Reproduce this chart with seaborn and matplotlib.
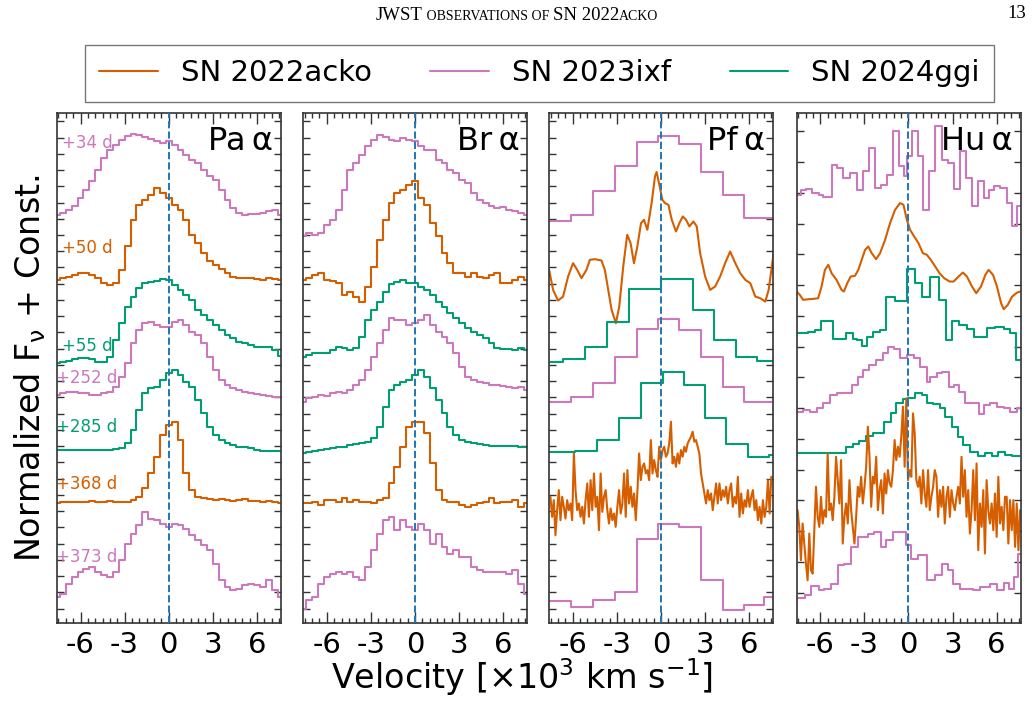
import numpy as np
import matplotlib
matplotlib.use('Agg')
import matplotlib.pyplot as plt
from matplotlib.lines import Line2D
from matplotlib.ticker import MultipleLocator, FixedLocator
from matplotlib.offsetbox import TextArea, HPacker, AnchoredOffsetbox
import seaborn as sns

# ---------------------------------------------------------------------------
# data: flux values (arbitrary units, before stacking)
# ---------------------------------------------------------------------------
sn_names = ['SN 2022acko', 'SN 2023ixf', 'SN 2024ggi']
epochs = ['+34 d', '+50 d', '+55 d', '+252 d', '+285 d', '+368 d', '+373 d']
epoch_sn = ['SN 2023ixf', 'SN 2022acko', 'SN 2024ggi', 'SN 2023ixf',
            'SN 2024ggi', 'SN 2022acko', 'SN 2023ixf']
line_names = ['Pa\u2009α', 'Br\u2009α', 'Pf\u2009α', 'Hu\u2009α']

# velocity grid (10^3 km/s) of the Pa alpha / Br alpha spectra
v_grid = np.linspace(-7.6, 7.6, 39)

# --- Pa alpha ---
pa_34 = [0, .05, .15, .25, .50, .75, 1.0, 1.35, 1.70, 1.95, 2.10, 2.25, 2.35, 2.43, 2.40, 2.33, 2.27, 2.20, 2.15, 2.20,
         2.10, 1.95, 1.80, 1.65, 1.55, 1.35, 1.15, 1.05, .75, .45, .20, .05, 0, .03, .03, .05, .10, .15, 0]
pa_50 = [.15, .20, .25, .30, .35, .35, .30, .20, .05, 0, .05, .45, 1.15, 1.95, 2.40, 2.55, 2.70, 2.90, 2.75, 2.60,
         2.40, 2.25, 1.95, 1.50, 1.25, .95, .70, .60, .47, .35, .25, .20, .20, .20, .17, .15, .20, .18, .15]
pa_55 = [0, .05, .08, .12, .15, .15, .12, .05, .05, .20, .70, 1.20, 1.70, 2.00, 2.25, 2.40, 2.45, 2.48, 2.52, 2.50,
         2.35, 2.20, 2.05, 1.90, 1.60, 1.45, 1.30, 1.15, 1.00, .85, .75, .65, .60, .55, .50, .48, .48, .40, .22]
pa_252 = [.05, .10, .15, .15, .12, .10, .05, .05, .10, .15, .30, .60, 1.00, 1.60, 2.00, 2.20, 2.25, 2.15, 2.10, 2.10,
          2.25, 2.30, 2.15, 1.95, 1.85, 1.60, 1.20, .80, .50, .35, .25, .20, .15, .12, .08, .05, .02, 0, 0]
pa_285 = [.03, .03, .03, .03, .03, .03, .03, .03, .03, .04, .05, .08, .23, .63, 1.23, 1.73, 1.88, 1.93, 2.13, 2.33,
          2.43, 2.28, 2.08, 1.93, 1.53, 1.13, .73, .48, .33, .23, .18, .13, .11, .08, .03, .01, .01, 0, 0]
pa_368 = [.02, .04, .05, .04, .05, .04, .06, .05, .04, .06, .05, .04, .05, .10, .20, .45, .90, 1.40, 2.05, 2.35,
          2.45, 1.90, .90, .40, .20, .15, .12, .10, .12, .10, .08, .10, .12, .08, .07, .05, .06, .04, .02]
pa_373 = [0, .10, .40, .60, .75, .85, .90, .75, .65, .60, .75, 1.10, 1.60, 1.90, 2.15, 2.55, 2.35, 2.30, 2.20, 2.10,
          2.20, 2.15, 2.05, 1.85, 1.70, 1.55, 1.40, 1.00, .50, .30, .20, .25, .35, .40, .35, .30, .50, .20, 0]

# --- Br alpha ---
br_34 = [0, .10, .05, .10, .35, .50, .80, 1.40, 2.00, 2.20, 2.45, 2.70, 2.90, 3.05, 2.98, 2.88, 2.85, 2.95, 2.90, 2.85,
         2.70, 2.60, 2.60, 2.30, 2.20, 2.00, 1.90, 1.70, 1.60, 1.30, 1.10, 1.00, .90, .85, .88, .80, .75, .70, .65]
br_50 = [.65, .70, .80, .85, .65, .63, .55, .20, .30, .15, 0, .45, 1.05, 1.85, 2.45, 2.95, 3.25, 3.35, 3.50, 3.60,
         3.10, 2.90, 2.35, 1.95, 1.45, 1.15, .85, .85, .75, .85, .75, .70, .80, .85, .55, .55, .65, .75, .65]
br_55 = [0, .05, .10, .10, .12, .20, .28, .25, .20, .25, .60, 1.10, 1.40, 1.65, 1.95, 2.18, 2.25, 2.30, 2.22, 2.20,
         2.10, 2.00, 1.85, 1.65, 1.50, 1.30, 1.15, 1.00, .85, .75, .65, .55, .40, .25, .22, .22, .20, .25, .20]
br_252 = [0, .10, .15, .20, .17, .25, .30, .25, .35, .50, .65, .95, 1.35, 1.75, 2.15, 2.50, 2.45, 2.45, 2.30, 2.35,
          2.45, 2.60, 2.30, 2.10, 1.95, 1.75, 1.45, 1.05, .75, .65, .60, .55, .50, .50, .47, .45, .40, .43, .35]
br_285 = [0, .05, .08, .10, .12, .15, .18, .20, .25, .28, .30, .35, .45, .80, 1.40, 1.90, 2.05, 2.15, 2.20, 2.35,
          2.50, 2.30, 1.95, 1.60, 1.20, .80, .55, .40, .33, .30, .27, .25, .23, .22, .22, .22, .21, .20, .20]
br_368 = [.10, .12, .15, .05, .20, .20, .15, .25, .15, .20, .15, .15, .10, .20, .25, .70, 1.20, 1.80, 2.40, 2.55,
          2.55, 2.20, 1.30, .50, .20, .15, .15, .05, 0, .05, .10, .15, .25, .10, .15, .15, .20, 0, .10]
br_373 = [0, .25, .35, .75, .95, 1.05, 1.10, 1.05, 1.10, .95, .85, 1.25, 1.75, 2.25, 2.65, 2.75, 2.35, 2.65, 2.45, 2.35,
          2.55, 2.35, 1.95, 2.25, 1.85, 1.65, 1.75, 1.55, 1.55, 1.25, 1.15, 1.10, 1.10, 1.10, 1.10, 1.05, 1.15, .75, .45]

# --- Pf alpha (coarse spectra given as bin edges + bin values) ---
pf_edges_a = [-7.61, -6.09, -4.61, -3.14, -1.66, -0.18, 1.25, 2.73, 4.20, 5.61, 7.66]
pf_34 = [0, .20, .92, 1.67, 2.39, 2.55, 2.32, 1.49, .78, .10]
pf_252 = [0, .17, .59, 1.37, 2.20, 2.49, 2.17, 1.37, .45, .02]
pf_50_v = [-7.61, -7.34, -7.00, -6.66, -6.32, -5.98, -5.70, -5.41, -5.07, -4.84, -4.50, -4.05, -3.82, -3.59, -3.36,
           -3.07, -2.84, -2.57, -2.30, -2.07, -1.84, -1.61, -1.36, -1.16, -0.93, -0.64, -0.41, -0.30, -0.14, 0.09,
           0.27, 0.50, 0.73, 1.02, 1.25, 1.48, 1.70, 1.93, 2.20, 2.43, 2.66, 3.00, 3.34, 3.68, 4.02, 4.36, 4.70,
           5.05, 5.39, 5.73, 6.07, 6.41, 6.75, 7.09, 7.32, 7.66]
pf_50 = [1.60, 1.00, .68, .80, 1.40, 1.80, 1.60, 1.35, 1.60, 1.90, 1.92, 1.88, 1.60, 1.00, .40,
         0, .50, 1.70, 2.65, 2.40, 1.80, 2.30, 3.00, 3.10, 2.80, 3.60, 4.40, 4.53, 4.20, 3.70,
         3.60, 3.55, 3.10, 2.75, 3.00, 3.20, 3.10, 2.90, 3.05, 2.90, 2.10, 1.40, 1.00, 1.10, 1.40, 1.80, 2.15,
         1.80, 1.50, 1.30, 1.20, .80, .75, .65, 1.00, 2.10]
pf_55_edges = [-7.61, -6.66, -5.14, -3.64, -2.16, 0, 2.20, 3.61, 5.11, 6.52, 7.66]
pf_55 = [0, .09, .47, 1.20, 2.20, 2.49, 1.57, .67, .15, .05]
pf_285_edges = [-7.61, -5.86, -4.34, -2.84, -1.39, 0.11, 1.57, 3.00, 4.43, 5.89, 7.32, 7.66]
pf_285 = [.13, .18, .50, 1.15, 2.20, 2.55, 2.15, 1.15, .37, 0, .05]
pf_368 = [1.30, .70, 1.20, .15, .90, 1.50, .60, 1.30, 1.00, .65, 1.20, .90, 1.10, .60, 2.60, 1.50, .90, 1.10, .70, 1.00,
          .50, 1.20, 1.70, .70, 1.80, .90, 2.00, 1.00, 1.30, .30, 2.00, .85, 1.30, 1.50, .90, .50, .95, .60, .80, .40,
          1.00, 1.50, .80, 1.10, 2.00, .70, 2.10, 1.10, 1.60, 1.00, 1.40, .60, 1.50, 2.60, 1.80, 2.20, 2.30, 2.00,
          2.10, 1.80, 3.00, 2.00, 2.40, 2.10, 1.90, 2.80,
          2.40, 2.70, 2.80, 2.50, 2.60, 2.90, 3.55, 2.30, 2.50, 2.20, 2.60, 2.30, 2.70, 2.50, 2.80, 2.65, 2.90, 3.00,
          3.10, 3.25, 2.95, 3.00, 2.80, 2.60, 2.00, 1.70, 1.40, 1.10, 1.50, 1.20, 1.40, .90, 1.30, 1.70, 1.10, 1.70,
          1.20, 1.50, 1.30, 1.60, 1.10, 1.50, 1.70, 1.00, 1.30, 1.10, 1.90, .70, 1.40, .80, 1.20, 1.00, 1.50, 1.00,
          1.30, 1.50, .90, 1.20, .60, 1.00, .50, 1.20, .70, 1.00, 1.80, .80, 1.90]
pf_368_v = np.linspace(-7.52, 7.50, len(pf_368))
pf_373_edges = [-7.61, -6.09, -4.61, -3.14, -1.66, -0.18, 1.25, 2.73, 4.20, 5.61, 7.02, 7.66]
pf_373 = [.28, .10, .30, .55, 2.15, 2.60, 2.50, .90, 0, .15, .40]

# --- Hu alpha ---
hu_34_edges = [-7.61, -7.34, -6.98, -6.59, -6.07, -5.80, -5.23, -4.89, -4.43, -3.98, -3.52, -3.07, -2.66, -2.27,
               -1.86, -1.48, -1.02, -0.61, -0.30, -0.07, 0.23, 0.64, 1.02, 1.43, 1.82, 2.27, 2.66, 3.07, 3.52,
               3.93, 4.32, 4.70, 5.11, 5.45, 5.80, 6.25, 6.70, 7.05, 7.39, 7.61]
hu_34 = [.95, 1.10, 1.12, 1.00, .95, .88, 1.85, 1.75, 1.45, 1.60, 1.10, 1.65, 2.35, 1.15, 1.25, 1.55, 2.85, 1.80,
         1.52, 2.10, 2.85, 2.10, .50, 1.65, 3.02, 2.00, 1.90, 1.12, 2.25, 1.45, .60, 1.35, .85, 1.10, 1.22, 1.15,
         .70, .02, .60]
hu_50_v = [-7.61, -7.39, -7.16, -6.82, -6.48, -6.14, -5.91, -5.68, -5.45, -5.23, -4.89, -4.55, -4.39, -4.16, -3.93,
           -3.64, -3.41, -3.18, -2.95, -2.73, -2.50, -2.20, -1.93, -1.59, -1.25, -0.91, -0.57, -0.34, -0.11, 0.11,
           0.39, 0.68, 0.98, 1.25, 1.52, 1.82, 2.11, 2.43, 2.80, 3.07, 3.41, 3.70, 3.98, 4.32, 4.61, 4.93, 5.23,
           5.45, 5.75, 6.02, 6.30, 6.48, 6.75, 7.05, 7.39, 7.61]
hu_50 = [.55, .45, .30, .32, .33, .35, .70, 1.20, 1.35, 1.10, .90, .60, .55, .80, 1.00, 1.02, 1.20, 1.50, 1.80,
         1.90, 1.70, 1.52, 1.70, 2.10, 2.60, 3.00, 3.20, 3.15, 2.70, 2.40, 2.20, 2.00, 1.70, 1.65, 1.50, 1.30,
         1.10, .95, .85, .85, 1.00, 1.12, 1.00, .70, .50, .70, 1.05, 1.20, 1.05, .70, .20, .02, .15, .40, .52, .55]
hu_55_edges = [-7.61, -7.20, -6.82, -6.36, -5.98, -5.11, -4.70, -4.25, -3.80, -3.52, -3.18, -2.84, -2.39, -1.93,
               -1.52, -0.91, -0.11, 0.45, 0.91, 1.48, 2.05, 2.57, 2.95, 3.41, 3.98, 4.43, 4.89, 5.34, 5.91, 6.48,
               6.93, 7.34, 7.61]
hu_55 = [.80, .82, .85, .90, 1.18, .62, .62, .82, .62, .60, .42, .68, .85, .90, 1.90, 1.78, 2.72, 2.30, 1.90, 2.50,
         1.80, .60, 1.18, 1.05, .92, .70, .70, .95, 1.00, .92, .80, 0]
hu_252_edges = [-7.61, -7.16, -6.70, -6.25, -5.80, -5.34, -4.84, -4.43, -3.86, -3.45, -3.07, -2.66, -2.20, -1.75,
                -1.36, -0.98, -0.57, -0.07, 0.39, 0.80, 1.25, 1.48, 1.93, 2.27, 2.73, 3.07, 3.41, 3.86, 4.32, 4.77,
                5.11, 5.57, 6.02, 6.48, 6.93, 7.39, 7.61]
hu_252 = [.07, .12, .07, .17, .32, .57, .62, .64, .87, 1.12, 1.32, 1.47, 1.62, 1.82, 2.02, 1.94, 1.67, 1.77, 1.67,
          1.42, .97, 1.12, 1.22, 1.27, .82, .87, .67, .32, .34, 0, .27, .32, .22, .17, .07, .17]
hu_285_edges = [-7.61, -4.25, -3.80, -3.34, -2.89, -2.43, -1.64, -1.18, -0.84, -0.39, -0.02, 0.43, 0.89, 1.23, 1.68,
                2.14, 2.48, 2.93, 3.39, 3.73, 4.18, 4.75, 5.20, 5.66, 6.11, 6.57, 7.02, 7.61]
hu_285 = [.10, .28, .38, .48, .62, .72, 1.05, 1.32, 1.60, 1.72, 1.75, 1.90, 1.85, 1.60, 1.58, 1.45, 1.20, .90, .60,
          .35, .15, .02, .10, .02, .15, .05, .02]
hu_368 = [2.40, 1.90, .90, 2.00, 1.40, .80, .30, 1.70, .60, .50, 1.80, 3.10, 2.20, 1.90, 2.80, 2.00, 2.40, 2.20,
          4.10, 2.40, 2.60, 2.10, 2.80, 4.00, 3.30, 2.60, 3.90, 1.40, 2.20, 2.60, 2.00, 3.30, 2.40, 1.90, 1.40,
          2.20, 3.10, 2.80, 3.40, 2.60, 3.10, 3.70, 4.90, 4.00, 2.50, 3.40, 3.20, 4.00, 2.40, 3.00, 3.30, 2.30,
          3.50, 2.90, 3.60, 3.20, 3.10, 3.60, 4.50, 3.90, 4.30, 4.00, 4.60, 5.50, 3.70, 5.75,
          3.30, 3.60, 3.40, 5.30, 4.70, 3.30, 3.10, 3.40, 2.60, 3.60, 2.90, 2.50, 3.60, 2.40, 2.80, 3.10, 3.60,
          3.40, 2.20, 3.00, 2.50, 3.10, 2.00, 2.80, 3.10, 2.20, 3.00, 2.60, 2.40, 2.80, 3.10, 2.60, 4.00, 2.80,
          3.60, 2.20, 3.00, 1.70, 2.40, 3.60, 2.10, 3.80, 1.20, 2.60, 1.90, 3.00, 1.10, 3.30, 2.40, 2.00, 2.60,
          1.80, 2.90, 1.60, 3.40, 2.00, 2.50, 1.80, 2.80, 2.80, 1.40, 2.70, 1.80, 2.70, 1.30, 2.60, 1.20, 2.40]
hu_368_v = np.linspace(-7.54, 7.59, len(hu_368))
hu_373_edges = [-7.61, -7.05, -6.64, -6.07, -5.73, -5.27, -4.82, -4.36, -3.91, -3.45, -3.11, -2.77, -2.32, -1.86,
                -1.52, -1.07, -0.16, 0.20, 0.66, 1.23, 1.80, 2.25, 2.70, 3.05, 3.50, 3.95, 4.41, 4.86, 5.55, 6.02,
                6.48, 6.82, 7.20, 7.43, 7.61]
hu_373 = [0, .07, .34, .22, .27, .42, .97, 1.02, 1.52, 1.82, 1.82, 1.92, 1.97, 1.52, 1.72, 1.97, 1.57, 1.17, 1.27,
          .52, .67, 1.02, .82, .42, .27, .27, .22, .32, .42, .22, .44, .27, .62, 1.32]

# vertical offsets ("+ Const.") for each epoch, per panel
pa_offsets = [12.23, 10.13, 7.78, 6.78, 5.15, 3.58, 0.78]
br_offsets = [11.58, 9.63, 7.98, 6.63, 5.08, 3.48, 0.43]
pf_offsets = [12.03, 8.98, 7.81, 6.61, 4.98, 2.48, 0.38]
hu_offsets = [11.88, 9.38, 7.88, 6.26, 4.98, 0.98, 0.76]

# label heights of the epoch annotations in the first panel
label_y = [14.38, 11.23, 8.30, 7.33, 5.88, 4.15, 1.98]


def steps(edges, vals):
    # bin edges + values -> x, y for a 'steps-post' line
    return list(edges), list(vals) + [vals[-1]]


# (x, flux, drawstyle) for every spectrum, panel by panel
panels = [
    [(v_grid, f, 'steps-mid') for f in [pa_34, pa_50, pa_55, pa_252, pa_285, pa_368, pa_373]],
    [(v_grid, f, 'steps-mid') for f in [br_34, br_50, br_55, br_252, br_285, br_368, br_373]],
    [(*steps(pf_edges_a, pf_34), 'steps-post'), (pf_50_v, pf_50, 'default'),
     (*steps(pf_55_edges, pf_55), 'steps-post'), (*steps(pf_edges_a, pf_252), 'steps-post'),
     (*steps(pf_285_edges, pf_285), 'steps-post'), (pf_368_v, pf_368, 'default'),
     (*steps(pf_373_edges, pf_373), 'steps-post')],
    [(*steps(hu_34_edges, hu_34), 'steps-post'), (hu_50_v, hu_50, 'default'),
     (*steps(hu_55_edges, hu_55), 'steps-post'), (*steps(hu_252_edges, hu_252), 'steps-post'),
     (*steps(hu_285_edges, hu_285), 'steps-post'), (hu_368_v, hu_368, 'default'),
     (*steps(hu_373_edges, hu_373), 'steps-post')],
]
offsets = [pa_offsets, br_offsets, pf_offsets, hu_offsets]

# ---------------------------------------------------------------------------
# style
# ---------------------------------------------------------------------------
sns.set_style('ticks')
plt.rcParams['font.family'] = ['DejaVu Sans']
plt.rcParams['text.color'] = 'black'
plt.rcParams['axes.unicode_minus'] = False
plt.rcParams['mathtext.default'] = 'regular'

pal = sns.color_palette('colorblind')
sn_colors = {'SN 2022acko': pal[3], 'SN 2023ixf': pal[4], 'SN 2024ggi': pal[2]}
frame_col = '#333333'

fig = plt.figure(figsize=(10.34, 7.26), dpi=100)
ax_left = [0.0551, 0.2933, 0.5312, 0.7705]
ax_w, ax_b, ax_h = 0.2166, 0.1419, 0.7025

for i, (specs, offs) in enumerate(zip(panels, offsets)):
    ax = fig.add_axes([ax_left[i], ax_b, ax_w, ax_h])
    for (x, f, ds), off, sn in zip(specs, offs, epoch_sn):
        sns.lineplot(x=np.asarray(x, float), y=np.asarray(f, float) + off, ax=ax,
                     color=sn_colors[sn], lw=1.5, drawstyle=ds)
    ax.axvline(0, color='#1f77b4', ls='--', lw=1.4, zorder=5)

    ax.set_xlim(-7.6, 7.63)
    ax.set_ylim(0, 15.28)
    ax.set_xticks([-6, -3, 0, 3, 6])
    ax.xaxis.set_minor_locator(MultipleLocator(0.5))
    if i < 3:
        ax.yaxis.set_major_locator(FixedLocator(np.arange(0.43, 15.1, 0.4867)))
    else:
        ax.yaxis.set_major_locator(FixedLocator(np.arange(-0.01, 15.0, 0.921)))
    ax.tick_params(axis='both', which='both', direction='in', top=True, right=True,
                   color=frame_col, labelcolor='black')
    ax.tick_params(axis='x', which='major', length=8, width=1, labelsize=21, pad=6)
    ax.tick_params(axis='x', which='minor', length=3.5, width=1)
    ax.tick_params(axis='y', which='major', length=5, width=1, labelleft=False)
    for sp in ax.spines.values():
        sp.set_color(frame_col)
        sp.set_linewidth(1.2)
    ax.set_xlabel('')
    ax.set_ylabel('')

    ax.text(0.965, 0.975, line_names[i], transform=ax.transAxes, ha='right', va='top', fontsize=23)

    if i == 0:
        for lab, y, sn in zip(epochs, label_y, epoch_sn):
            ax.text(-5.55, y, lab, ha='center', va='center', fontsize=12, color=sn_colors[sn])

fig.text(0.029, 0.493, r'Normalized F$_{\nu}$ + Const.', rotation=90, ha='center', va='center', fontsize=24)
fig.text(0.505, 0.067, r'Velocity [$\times$10$^{3}$ km s$^{-1}$]', ha='center', va='center', fontsize=24)

handles = [Line2D([], [], color=sn_colors[n], lw=1.5) for n in sn_names]
leg = fig.legend(handles, sn_names, loc='center', bbox_to_anchor=(0.5218, 0.8988), ncol=3, fontsize=21,
                 frameon=True, fancybox=False, handlelength=2.0, handletextpad=0.8, columnspacing=2.0,
                 borderpad=0.5, labelcolor='black')
leg.get_frame().set_edgecolor('#555555')
leg.get_frame().set_linewidth(1.0)

# running head of the journal page
serif = 'Liberation Serif'
parts = [('JWST', 13.5), (' OBSERVATIONS OF ', 10), ('SN 2022', 13.5), ('ACKO', 10)]
boxes = [TextArea(t, textprops=dict(fontsize=s, family=serif, color='black')) for t, s in parts]
head = AnchoredOffsetbox(loc='upper center', child=HPacker(children=boxes, align='baseline', pad=0, sep=0),
                         frameon=False, bbox_to_anchor=(0.5, 1.0), bbox_transform=fig.transFigure, pad=0)
fig.add_artist(head)
fig.text(0.992, 0.982, '13', ha='right', va='center', fontsize=13.5, family=serif)

fig.savefig('out.png', dpi=100)
